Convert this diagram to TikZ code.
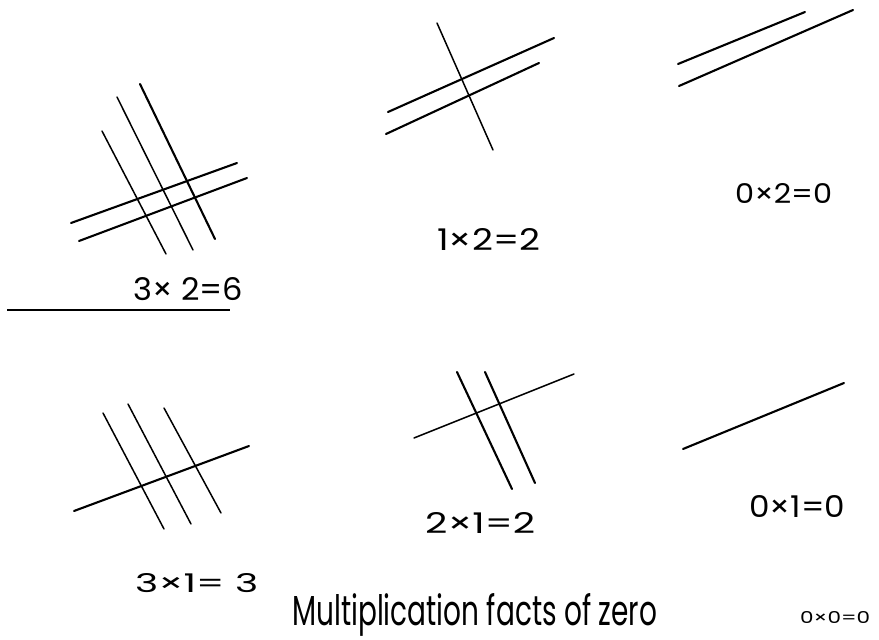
\documentclass[tikz,border=0pt]{standalone}
\usepackage{graphicx}
\usepackage{fontspec}
\setmainfont{Poppins}
\begin{document}
\begin{tikzpicture}[x=1pt,y=-1pt,
  stick/.style={line width=1.5pt,line cap=round,black},
  thick stick/.style={line width=2.1pt,line cap=round,black},
  lbl/.style={inner sep=0pt,anchor=base west}]
\useasboundingbox[fill=white] (0,0) rectangle (879,640);
% 3 x 2
\draw[stick] (102,131) -- (166,254);
\draw[stick] (117,97) -- (193,250);
\draw[thick stick] (140,84) -- (215,239);
\draw[thick stick] (71,223) -- (237,163);
\draw[thick stick] (79,241) -- (247,178);
\node[lbl] (t32) at (133,300) {\resizebox{110pt}{23pt}{3× 2=6}};
\coordinate (ulA) at (7,310);
\coordinate (ulB) at (230,310);
\draw[line width=1.3pt] (ulA) -- (ulB);
% 1 x 2
\draw[stick] (437,23) -- (493,150);
\draw[thick stick] (388,112) -- (554,38);
\draw[thick stick] (386,134) -- (539,63);
\node[lbl] (t12) at (437,250) {\resizebox{103pt}{22pt}{1×2=2}};
% 0 x 2
\draw[thick stick] (678,64) -- (805,12);
\draw[thick stick] (679,86) -- (853,10);
\node[lbl] (t02) at (735,203) {\resizebox{97pt}{20pt}{0×2=0}};
% 3 x 1
\draw[stick] (103,413) -- (164,529);
\draw[stick] (128,404) -- (191,524);
\draw[stick] (164,408) -- (221,513);
\draw[thick stick] (74,511) -- (249,446);
\node[lbl] (t31) at (135,592) {\resizebox{123pt}{19pt}{3×1= 3}};
% 2 x 1
\draw[thick stick] (457,372) -- (512,489);
\draw[thick stick] (485,372) -- (535,483);
\draw[stick] (414,438) -- (574,374);
\node[lbl] (t21) at (425,533) {\resizebox{110pt}{21pt}{2×1=2}};
% 0 x 1
\draw[thick stick] (683,449) -- (844,383);
\node[lbl] (t01) at (749,517) {\resizebox{96pt}{22pt}{0×1=0}};
% caption
\node[lbl] (cap) at (292,625) {\resizebox{365pt}{32pt}{Multiplication facts of zero}};
\node[lbl] (t00) at (800,623) {\resizebox{70pt}{12pt}{0×0=0}};
\end{tikzpicture}
\end{document}
